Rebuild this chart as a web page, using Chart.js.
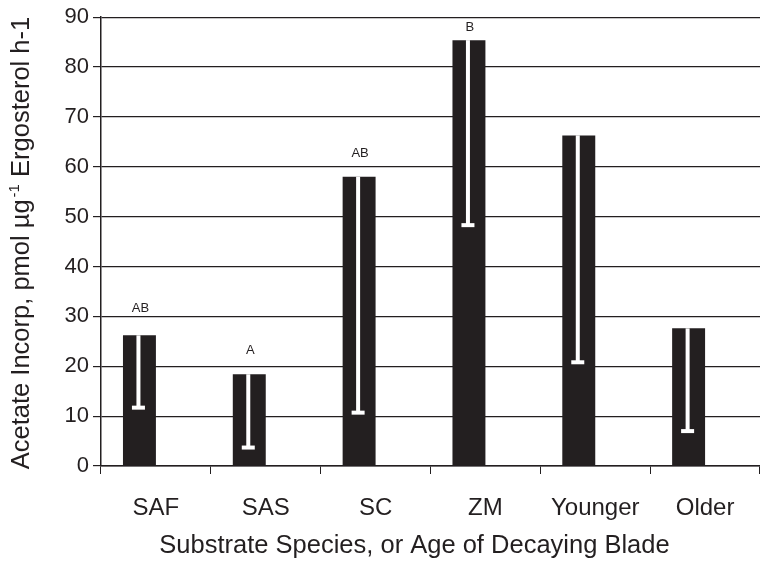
<!DOCTYPE html>
<html>
<head>
<meta charset="utf-8">
<script src="https://cdn.jsdelivr.net/npm/chart.js@4"></script>
<style>
  body { margin: 0; background: #fff; }
  canvas { display: block; }
</style>
</head>
<body>
<canvas id="grafico" width="760" height="561"></canvas>
<script>
// datos
const categorias = ['SAF', 'SAS', 'SC', 'ZM', 'Younger', 'Older'];
const valores = [26.2, 18.4, 58.0, 85.4, 66.3, 27.6];
const errorBajo = [11.7, 3.7, 10.7, 48.3, 20.8, 7.0];
const letras = ['AB', 'A', 'AB', 'B', '', ''];
const letrasY = [31.6, 23.2, 62.6, 88.0, null, null];
const ticksY = [0, 10, 20, 30, 40, 50, 60, 70, 80, 90];

const tituloX = 'Substrate Species, or Age of Decaying Blade';
const tituloY = ['Acetate Incorp, pmol \u00b5g', '-1', ' Ergosterol h-1'];

const negro = '#231f20';
const fuente = '"Liberation Sans", Arial, Helvetica, sans-serif';

// barras de error blancas, letras y titulos
const extras = {
    id: 'extras',
    afterDatasetsDraw(chart) {
        const ctx = chart.ctx;
        const y = chart.scales.y;
        const meta = chart.getDatasetMeta(0);
        ctx.save();
        meta.data.forEach((bar, i) => {
            const x = bar.x - 1;
            const yTop = y.getPixelForValue(valores[i]);
            const yLow = y.getPixelForValue(errorBajo[i]);
            ctx.fillStyle = '#ffffff';
            ctx.fillRect(x - 2, yTop, 4, yLow - yTop);
            ctx.fillRect(x - 6.5, yLow - 2, 13, 4);
            if (letras[i]) {
                ctx.fillStyle = negro;
                ctx.font = '13px ' + fuente;
                ctx.textAlign = 'center';
                ctx.textBaseline = 'middle';
                ctx.fillText(letras[i], bar.x + 1, y.getPixelForValue(letrasY[i]));
            }
        });
        ctx.restore();
    },
    afterDraw(chart) {
        const ctx = chart.ctx;
        const area = chart.chartArea;
        ctx.save();
        ctx.fillStyle = negro;
        ctx.textBaseline = 'middle';

        // titulo eje X (centrado sobre las barras, no sobre el area)
        ctx.font = '25.5px ' + fuente;
        ctx.textAlign = 'center';
        ctx.fillText(tituloX, (area.left + area.right) / 2 - 16, 546);

        // titulo del eje Y con superindice
        ctx.textAlign = 'left';
        const grande = '25.5px ' + fuente;
        const chico = '15px ' + fuente;
        ctx.font = grande;
        const w1 = ctx.measureText(tituloY[0]).width;
        const w3 = ctx.measureText(tituloY[2]).width;
        ctx.font = chico;
        const w2 = ctx.measureText(tituloY[1]).width + 2;
        const total = w1 + w2 + w3;
        ctx.translate(22, 243);
        ctx.rotate(-Math.PI / 2);
        let pos = -total / 2;
        ctx.font = grande;
        ctx.fillText(tituloY[0], pos, 0);
        pos += w1 + 2;
        ctx.font = chico;
        ctx.fillText(tituloY[1], pos, -7);
        pos += w2 - 2;
        ctx.font = grande;
        ctx.fillText(tituloY[2], pos, 0);
        ctx.restore();
    }
};

const ctx = document.getElementById('grafico').getContext('2d');
const grafico = new Chart(ctx, {
    type: 'bar',
    data: {
        labels: categorias,
        datasets: [
            {
                label: 'Acetate incorporation',
                data: valores,
                backgroundColor: negro,
                borderWidth: 0,
                categoryPercentage: 0.6,
                barPercentage: 1.0
            },
            {
                label: 'vacio',
                data: [],
                backgroundColor: negro,
                categoryPercentage: 0.6,
                barPercentage: 1.0
            }
        ]
    },
    options: {
        responsive: false,
        animation: false,
        layout: { padding: { top: 16, right: 0, left: 0, bottom: 0 } },
        plugins: {
            legend: { display: false },
            tooltip: { enabled: false }
        },
        scales: {
            x: {
                offset: true,
                grid: {
                    offset: true,
                    drawOnChartArea: false,
                    tickLength: 8,
                    color: negro
                },
                border: { color: negro, width: 1.5 },
                ticks: {
                    color: negro,
                    padding: 20,
                    font: { family: fuente, size: 24 }
                },
                afterFit(scale) { scale.height = 95; }
            },
            y: {
                min: 0,
                max: 90,
                afterBuildTicks(scale) {
                    scale.ticks = ticksY.map(v => ({ value: v }));
                },
                grid: {
                    color: negro,
                    lineWidth: 1.2,
                    tickLength: 8
                },
                border: { color: negro, width: 1.5 },
                ticks: {
                    color: negro,
                    padding: 4,
                    font: { family: fuente, size: 22 }
                },
                afterFit(scale) { scale.width = 101; }
            }
        }
    },
    plugins: [extras]
});
</script>
</body>
</html>
